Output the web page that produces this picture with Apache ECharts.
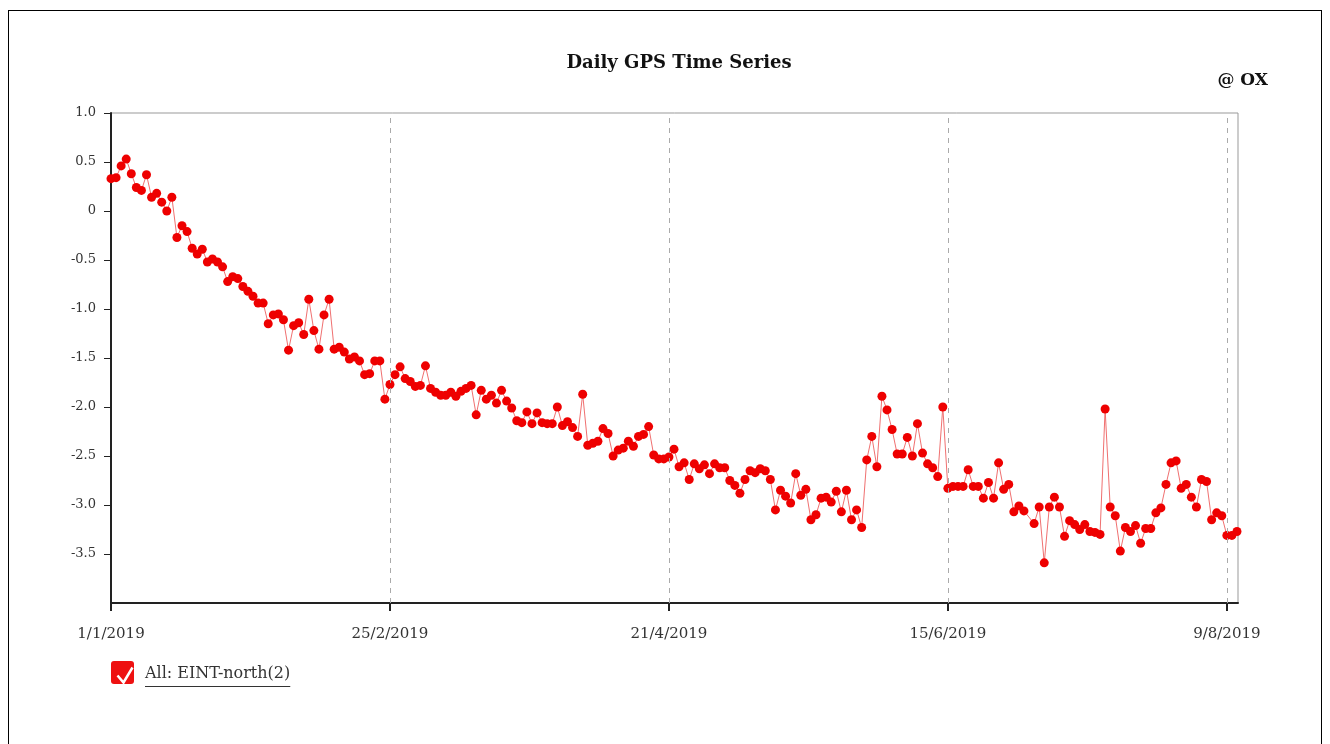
<!DOCTYPE html>
<html>
<head>
<meta charset="utf-8">
<title>Daily GPS Time Series</title>
<script src="https://cdn.jsdelivr.net/npm/echarts@6/dist/echarts.min.js"></script>
<style>
  html, body { margin: 0; padding: 0; background: #fff; }
  #chart { position: absolute; left: 0; top: 0; width: 1330px; height: 744px; }
  #frame { position: absolute; left: 8px; top: 10px; width: 1314px; height: 760px;
           border: 1px solid #000; pointer-events: none; box-sizing: border-box; }
</style>
</head>
<body>
<div id="chart"></div>
<div id="frame"></div>
<script>
// Daily displacement series (one value per day, starting 1 Jan 2019; null = no solution that day)
const startDate = '1/1/2019';
const seriesName = 'All: EINT-north(2)';
const values = [
  0.33, 0.34, 0.46, 0.53, 0.38, 0.24, 0.21, 0.37, 0.14, 0.18,
  0.09, 0.00, 0.14, -0.27, -0.15, -0.21, -0.38, -0.44, -0.39, -0.52,
  -0.49, -0.52, -0.57, -0.72, -0.67, -0.69, -0.77, -0.82, -0.87, -0.94,
  -0.94, -1.15, -1.06, -1.05, -1.11, -1.42, -1.17, -1.14, -1.26, -0.90,
  -1.22, -1.41, -1.06, -0.90, -1.41, -1.39, -1.44, -1.51, -1.49, -1.53,
  -1.67, -1.66, -1.53, -1.53, -1.92, -1.77, -1.67, -1.59, -1.71, -1.74,
  -1.79, -1.78, -1.58, -1.81, -1.85, -1.88, -1.88, -1.85, -1.89, -1.84,
  -1.81, -1.78, -2.08, -1.83, -1.92, -1.88, -1.96, -1.83, -1.94, -2.01,
  -2.14, -2.16, -2.05, -2.17, -2.06, -2.16, -2.17, -2.17, -2.00, -2.19,
  -2.15, -2.21, -2.30, -1.87, -2.39, -2.37, -2.35, -2.22, -2.27, -2.50,
  -2.44, -2.42, -2.35, -2.40, -2.30, -2.28, -2.20, -2.49, -2.53, -2.53,
  -2.51, -2.43, -2.61, -2.57, -2.74, -2.58, -2.63, -2.59, -2.68, -2.58,
  -2.62, -2.62, -2.75, -2.80, -2.88, -2.74, -2.65, -2.67, -2.63, -2.65,
  -2.74, -3.05, -2.85, -2.91, -2.98, -2.68, -2.90, -2.84, -3.15, -3.10,
  -2.93, -2.92, -2.97, -2.86, -3.07, -2.85, -3.15, -3.05, -3.23, -2.54,
  -2.30, -2.61, -1.89, -2.03, -2.23, -2.48, -2.48, -2.31, -2.50, -2.17,
  -2.47, -2.58, -2.62, -2.71, -2.00, -2.83, -2.81, -2.81, -2.81, -2.64,
  -2.81, -2.81, -2.93, -2.77, -2.93, -2.57, -2.84, -2.79, -3.07, -3.01,
  -3.06, null, -3.19, -3.02, -3.59, -3.02, -2.92, -3.02, -3.32, -3.16,
  -3.20, -3.25, -3.20, -3.27, -3.28, -3.30, -2.02, -3.02, -3.11, -3.47,
  -3.23, -3.27, -3.21, -3.39, -3.24, -3.24, -3.08, -3.03, -2.79, -2.57,
  -2.55, -2.83, -2.79, -2.92, -3.02, -2.74, -2.76, -3.15, -3.08, -3.11,
  -3.31, -3.31, -3.27
];
// x-axis ticks: day offsets from the start date and their labels
const xTickDays = [0, 55, 110, 165, 220];
const xTickLabels = ['1/1/2019', '25/2/2019', '21/4/2019', '15/6/2019', '9/8/2019'];
// y-axis ticks
const yTicks = [1.0, 0.5, 0, -0.5, -1.0, -1.5, -2.0, -2.5, -3.0, -3.5];

const FONT = '"DejaVu Serif", "Liberation Serif", serif';
const points = values.map((v, i) => [i, v]);

function measure(text, size, weight) {
  const c = document.createElement('canvas').getContext('2d');
  c.font = (weight || 'normal') + ' ' + size + 'px ' + FONT;
  return c.measureText(text).width;
}
const LEGEND_SIZE = 16;
const legendTextW = measure(seriesName, LEGEND_SIZE);

const chart = echarts.init(document.getElementById('chart'), null, { renderer: 'canvas' });
chart.setOption({
  animation: false,
  backgroundColor: '#fff',
  title: {
    text: 'Daily GPS Time Series',
    left: 674, top: 49, textAlign: 'center',
    textStyle: { fontFamily: FONT, fontSize: 18, fontWeight: 'bold', color: '#111' }
  },
  grid: {
    left: 111, right: 92, top: 113, bottom: 141,
    show: true, borderColor: '#999', borderWidth: 1, backgroundColor: 'transparent'
  },
  xAxis: {
    type: 'value', min: 0, max: 222.2,
    axisLine: { show: true, onZero: false, lineStyle: { color: '#222', width: 2 } },
    axisTick: { show: true, customValues: xTickDays, length: 8, lineStyle: { color: '#222', width: 2 } },
    axisLabel: {
      customValues: xTickDays, margin: 24, color: '#333',
      fontFamily: FONT, fontSize: 15,
      formatter: v => xTickLabels[xTickDays.indexOf(Math.round(v))] || ''
    },
    splitLine: { show: false }
  },
  yAxis: {
    type: 'value', min: -4, max: 1,
    axisLine: { show: true, onZero: false, lineStyle: { color: '#222', width: 2 } },
    axisTick: { show: true, customValues: yTicks, length: 7, lineStyle: { color: '#222', width: 1 } },
    axisLabel: {
      customValues: yTicks, margin: 15, color: '#333',
      fontFamily: FONT, fontSize: 13,
      formatter: v => (Math.abs(v) < 1e-9 ? '0' : v.toFixed(1))
    },
    splitLine: { show: false }
  },
  series: [{
    name: seriesName,
    type: 'line',
    data: points,
    connectNulls: true,
    symbol: 'circle',
    symbolSize: 9,
    itemStyle: { color: '#ee0000' },
    lineStyle: { color: '#f07070', width: 1 },
    markLine: {
      silent: true, symbol: 'none', label: { show: false },
      lineStyle: { color: '#aaa', type: [5, 5], width: 1 },
      data: xTickDays.slice(1).map(d => ({ xAxis: d }))
    },
    z: 3
  }],
  graphic: [
    {
      type: 'text', right: 62, top: 72,
      style: { text: '@ OX', font: 'bold 17px ' + FONT, fill: '#111' }
    },
    {
      type: 'rect', left: 111, top: 661,
      shape: { width: 23, height: 23, r: 3 },
      style: { fill: '#ee1111' }
    },
    {
      type: 'polyline', left: 115, top: 665,
      shape: { points: [[0, 8], [6, 15], [15, 0]] },
      style: { stroke: '#fff', lineWidth: 2.5, fill: null }
    },
    {
      type: 'text', left: 145, top: 666,
      style: { text: seriesName, font: LEGEND_SIZE + 'px ' + FONT, fill: '#333' }
    },
    {
      type: 'line',
      shape: { x1: 145, y1: 686.5, x2: 145 + legendTextW, y2: 686.5 },
      style: { stroke: '#333', lineWidth: 1 }
    }
  ]
});
</script>
</body>
</html>
